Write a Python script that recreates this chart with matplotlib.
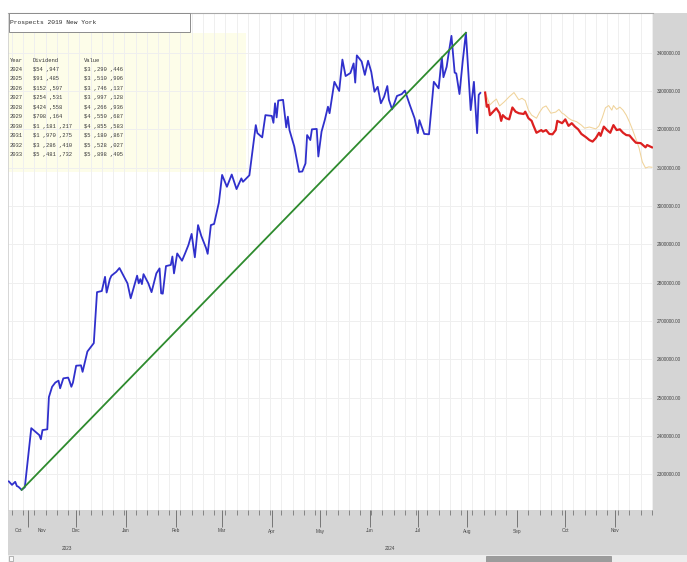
import matplotlib
matplotlib.use("Agg")
import matplotlib.pyplot as plt
import matplotlib.dates as mdates
import matplotlib.transforms as mtransforms
from matplotlib.patches import Rectangle
from matplotlib.ticker import FixedLocator, StrMethodFormatter
import pandas as pd

W, H = 687, 562

title = "Prospects 2019 New York"
table_header = ["Year", "Dividend", "Value"]
table_years = ["2024", "2025", "2026", "2027", "2028", "2029", "2030", "2031", "2032", "2033"]
table_dividends = ["$54 ,947", "$91 ,485", "$152 ,597", "$254 ,531", "$424 ,558",
                   "$708 ,164", "$1 ,181 ,217", "$1 ,970 ,275", "$3 ,286 ,410", "$5 ,481 ,732"]
table_values = ["$3 ,290 ,446", "$3 ,510 ,906", "$3 ,746 ,137", "$3 ,997 ,128", "$4 ,266 ,936",
                "$4 ,550 ,687", "$4 ,855 ,583", "$5 ,180 ,867", "$5 ,528 ,027", "$5 ,898 ,405"]

blue_dates = [
    "2023-10-20", "2023-10-22", "2023-10-24", "2023-10-25", "2023-10-26", "2023-10-28", "2023-10-30",
    "2023-11-03", "2023-11-08", "2023-11-09", "2023-11-10", "2023-11-13", "2023-11-14", "2023-11-16",
    "2023-11-18", "2023-11-20", "2023-11-21", "2023-11-23", "2023-11-26", "2023-11-27", "2023-11-28",
    "2023-11-29", "2023-12-01", "2023-12-04", "2023-12-05", "2023-12-08", "2023-12-10", "2023-12-12",
    "2023-12-14", "2023-12-17", "2023-12-19", "2023-12-20", "2023-12-22", "2023-12-23", "2023-12-26",
    "2023-12-28", "2023-12-30", "2024-01-02", "2024-01-04", "2024-01-06", "2024-01-08", "2024-01-09",
    "2024-01-10", "2024-01-11", "2024-01-12", "2024-01-15", "2024-01-17", "2024-01-20", "2024-01-22",
    "2024-01-23", "2024-01-24", "2024-01-26", "2024-01-29", "2024-01-30", "2024-01-31", "2024-02-02",
    "2024-02-04", "2024-02-05", "2024-02-07", "2024-02-09", "2024-02-11", "2024-02-13", "2024-02-15",
    "2024-02-17", "2024-02-20", "2024-02-21", "2024-02-23", "2024-02-25", "2024-02-28", "2024-03-01",
    "2024-03-04", "2024-03-07", "2024-03-10", "2024-03-13", "2024-03-14", "2024-03-18", "2024-03-22",
    "2024-03-23", "2024-03-26", "2024-03-28", "2024-04-01", "2024-04-02", "2024-04-03", "2024-04-04",
    "2024-04-05", "2024-04-08", "2024-04-10", "2024-04-11", "2024-04-12", "2024-04-15", "2024-04-18",
    "2024-04-20", "2024-04-22", "2024-04-23", "2024-04-25", "2024-04-26", "2024-04-29", "2024-04-30",
    "2024-05-02", "2024-05-04", "2024-05-06", "2024-05-07", "2024-05-10", "2024-05-13", "2024-05-15",
    "2024-05-17", "2024-05-20", "2024-05-22", "2024-05-23", "2024-05-24", "2024-05-27", "2024-05-29",
    "2024-05-31", "2024-06-02", "2024-06-04", "2024-06-06", "2024-06-08", "2024-06-10", "2024-06-12",
    "2024-06-13", "2024-06-15", "2024-06-18", "2024-06-21", "2024-06-23", "2024-06-26", "2024-06-29",
    "2024-07-01", "2024-07-02", "2024-07-05", "2024-07-08", "2024-07-11", "2024-07-14", "2024-07-16",
    "2024-07-17", "2024-07-19", "2024-07-20", "2024-07-22", "2024-07-24", "2024-07-25", "2024-07-27",
    "2024-07-29", "2024-07-31", "2024-08-03", "2024-08-05", "2024-08-07", "2024-08-08", "2024-08-09",
]
blue_values = [
    2281000, 2272000, 2280000, 2269000, 2267000, 2259000, 2266000,
    2420000, 2402000, 2391000, 2415000, 2417000, 2501000, 2528000,
    2539000, 2544000, 2524000, 2550000, 2552000, 2541000, 2528000,
    2539000, 2583000, 2584000, 2567000, 2620000, 2631000, 2642000,
    2775000, 2778000, 2815000, 2774000, 2809000, 2818000, 2828000,
    2838000, 2822000, 2798000, 2759000, 2789000, 2818000, 2798000,
    2809000, 2796000, 2822000, 2798000, 2775000, 2824000, 2837000,
    2772000, 2771000, 2843000, 2846000, 2868000, 2824000, 2876000,
    2863000, 2857000, 2877000, 2898000, 2927000, 2866000, 2950000,
    2922000, 2890000, 2875000, 2950000, 2953000, 3009000, 3081000,
    3050000, 3082000, 3044000, 3072000, 3063000, 3080000, 3211000,
    3190000, 3179000, 3237000, 3235000, 3217000, 3268000, 3231000,
    3275000, 3277000, 3205000, 3233000, 3198000, 3155000, 3089000,
    3090000, 3111000, 3185000, 3172000, 3200000, 3201000, 3129000,
    3194000, 3224000, 3259000, 3242000, 3324000, 3300000, 3382000,
    3339000, 3347000, 3372000, 3322000, 3393000, 3377000, 3342000,
    3379000, 3350000, 3298000, 3311000, 3268000, 3285000, 3313000,
    3277000, 3252000, 3287000, 3292000, 3301000, 3264000, 3229000,
    3190000, 3224000, 3188000, 3187000, 3324000, 3307000, 3388000,
    3336000, 3363000, 3391000, 3444000, 3348000, 3346000, 3292000,
    3377000, 3452000, 3250000, 3324000, 3190000, 3290000, 3295000,
]

trend_dates = ["2023-10-28", "2024-07-31"]
trend_values = [2259000, 3452000]

red_dates = [
    "2024-08-12", "2024-08-13", "2024-08-14", "2024-08-15", "2024-08-17", "2024-08-19", "2024-08-21",
    "2024-08-22", "2024-08-23", "2024-08-25", "2024-08-27", "2024-08-29", "2024-08-31", "2024-09-02",
    "2024-09-05", "2024-09-06", "2024-09-08", "2024-09-10", "2024-09-11", "2024-09-13", "2024-09-16",
    "2024-09-17", "2024-09-19", "2024-09-21", "2024-09-23", "2024-09-25", "2024-09-26", "2024-09-29",
    "2024-10-01", "2024-10-03", "2024-10-05", "2024-10-07", "2024-10-09", "2024-10-11", "2024-10-14",
    "2024-10-16", "2024-10-18", "2024-10-20", "2024-10-22", "2024-10-23", "2024-10-25", "2024-10-27",
    "2024-10-29", "2024-10-31", "2024-11-02", "2024-11-04", "2024-11-06", "2024-11-08", "2024-11-10",
    "2024-11-12", "2024-11-14", "2024-11-17", "2024-11-20", "2024-11-21", "2024-11-24",
]
red_values = [
    3296000, 3259000, 3264000, 3237000, 3246000, 3255000, 3242000,
    3222000, 3237000, 3229000, 3226000, 3257000, 3246000, 3242000,
    3240000, 3246000, 3229000, 3222000, 3211000, 3191000, 3198000,
    3194000, 3198000, 3188000, 3187000, 3198000, 3222000, 3216000,
    3226000, 3209000, 3216000, 3207000, 3200000, 3188000, 3179000,
    3172000, 3168000, 3177000, 3191000, 3183000, 3207000, 3198000,
    3191000, 3211000, 3198000, 3200000, 3191000, 3185000, 3184000,
    3174000, 3165000, 3164000, 3153000, 3159000, 3153000,
]

orange_dates = [
    "2024-08-12", "2024-08-15", "2024-08-17", "2024-08-19", "2024-08-21", "2024-08-24", "2024-08-27",
    "2024-08-30", "2024-09-02", "2024-09-04", "2024-09-06", "2024-09-08", "2024-09-10", "2024-09-13",
    "2024-09-15", "2024-09-17", "2024-09-19", "2024-09-22", "2024-09-25", "2024-09-27", "2024-09-29",
    "2024-09-30", "2024-10-03", "2024-10-05", "2024-10-08", "2024-10-11", "2024-10-13", "2024-10-16",
    "2024-10-20", "2024-10-22", "2024-10-24", "2024-10-26", "2024-10-28", "2024-10-30", "2024-10-31",
    "2024-11-02", "2024-11-04", "2024-11-06", "2024-11-08", "2024-11-10", "2024-11-12", "2024-11-14",
    "2024-11-16", "2024-11-18", "2024-11-20", "2024-11-22", "2024-11-24",
]
orange_values = [
    3296000, 3264000, 3272000, 3279000, 3261000, 3272000, 3285000,
    3296000, 3277000, 3281000, 3275000, 3250000, 3237000, 3229000,
    3245000, 3257000, 3261000, 3242000, 3245000, 3252000, 3242000,
    3240000, 3229000, 3224000, 3220000, 3211000, 3203000, 3206000,
    3201000, 3209000, 3230000, 3256000, 3262000, 3250000, 3262000,
    3252000, 3258000, 3250000, 3237000, 3219000, 3198000, 3175000,
    3151000, 3115000, 3099000, 3102000, 3101000,
]

y_ticks = [2300000, 2400000, 2500000, 2600000, 2700000, 2800000,
           2900000, 3000000, 3100000, 3200000, 3300000, 3400000]
month_labels = ["Oct", "Nov", "Dec", "Jan", "Feb", "Mar", "Apr", "May",
                "Jun", "Jul", "Aug", "Sep", "Oct", "Nov"]
year_labels = ["2023", "2024"]

x_start = pd.Timestamp("2023-10-19 12:00")
x_end = pd.Timestamp("2024-11-24 16:00")
y_min, y_max = 2206400, 3503600

# ---------------------------------------------------------------- figure
fig = plt.figure(figsize=(W / 100, H / 100), dpi=100)
fig.patch.set_facecolor("white")

def fx(px):
    return px / W

def fy(py):
    return 1 - py / H

# gray frame right and below the plot
fig.patches.append(Rectangle((fx(8), 0), 1 - fx(8), fy(13), transform=fig.transFigure,
                             facecolor="#d5d5d5", edgecolor="none", zorder=-5))
# scrollbar
fig.patches.append(Rectangle((fx(8), 0), 1 - fx(8), 7 / H, transform=fig.transFigure,
                             facecolor="#ededed", edgecolor="none", zorder=-4))
fig.patches.append(Rectangle((fx(486), 0.5 / H), fx(611) - fx(486), 6 / H, transform=fig.transFigure,
                             facecolor="#9c9c9c", edgecolor="#8a8a8a", linewidth=0.5, zorder=-3))
fig.patches.append(Rectangle((fx(9), 1 / H), 4 / W, 5 / H, transform=fig.transFigure,
                             facecolor="#f8f8f8", edgecolor="#999999", linewidth=0.5, zorder=-3))

ax = fig.add_axes([fx(8), 1 - 510 / H, (653 - 8) / W, (510 - 13) / H])
ax.set_zorder(1)
ax.set_facecolor("white")

bd = pd.to_datetime(blue_dates)
ax.plot(bd, blue_values, color="#3030cc", linewidth=1.3, zorder=3)
ax.plot(pd.to_datetime(trend_dates), trend_values, color="#2e8b2e", linewidth=1.3, zorder=4)
ax.plot(pd.to_datetime(orange_dates), orange_values, color="#f0d39a", linewidth=0.75, zorder=3)
ax.plot(pd.to_datetime(red_dates), red_values, color="#dc2020", linewidth=1.6, zorder=4)

ax.set_xlim(x_start, x_end)
ax.set_ylim(y_min, y_max)

# axes styling
for s in ["right", "bottom"]:
    ax.spines[s].set_visible(False)
ax.spines["top"].set_color("#a8a8a8")
ax.spines["top"].set_linewidth(0.8)
ax.spines["left"].set_color("#d0d0d0")
ax.spines["left"].set_linewidth(0.6)

ax.yaxis.tick_right()
ax.yaxis.set_major_locator(FixedLocator(y_ticks))
ax.yaxis.set_major_formatter(StrMethodFormatter("{x:.2f}"))
ax.tick_params(axis="y", length=0, pad=2.5, labelsize=3.4, labelcolor="#444444")
for lab in ax.get_yticklabels():
    lab.set_fontfamily("Liberation Sans")

ax.xaxis.set_major_locator(mdates.MonthLocator())
ax.xaxis.set_minor_locator(mdates.WeekdayLocator(byweekday=mdates.SU))
ax.tick_params(axis="x", which="major", length=12, width=0.6, color="#666666", labelbottom=False)
ax.tick_params(axis="x", which="minor", length=3.6, width=0.6, color="#777777", labelbottom=False)

ax.xaxis.grid(True, which="minor", color="#efefef", linewidth=0.7)
ax.xaxis.grid(False, which="major")
ax.yaxis.grid(True, which="major", color="#efefef", linewidth=0.7)

# month and year labels below the axis
bt = mtransforms.blended_transform_factory(ax.transData, fig.transFigure)
month_starts = list(pd.date_range("2023-12-01", "2024-11-01", freq="MS"))
first_oct = x_start + (pd.Timestamp("2023-11-01") - x_start) / 2
month_pos = [first_oct, pd.Timestamp("2023-11-09 18:00")] + month_starts
for lab, pos in zip(month_labels, month_pos):
    ax.text(pos, fy(531), lab, transform=bt, ha="center", va="center",
            fontsize=3.4, color="#444444", family="Liberation Sans", clip_on=False)
year_mid = [x_start + (pd.Timestamp("2024-01-01") - x_start) / 2,
            pd.Timestamp("2024-01-01") + (x_end - pd.Timestamp("2024-01-01")) / 2]
for lab, pos in zip(year_labels, year_mid):
    ax.text(pos, fy(548), lab, transform=bt, ha="center", va="center",
            fontsize=3.4, color="#444444", family="Liberation Sans", clip_on=False)

# table background
ax.add_patch(Rectangle((fx(8), fy(172)), fx(246) - fx(8), fy(33) - fy(172),
                       transform=fig.transFigure, facecolor="#fcfcd8", alpha=0.55,
                       edgecolor="none", zorder=1))
# title box
ax.add_patch(Rectangle((fx(8.5), fy(31.5)), fx(190) - fx(8.5), fy(13.5) - fy(31.5),
                       transform=fig.transFigure, facecolor="white",
                       edgecolor="#8c8c8c", linewidth=0.7, zorder=6, clip_on=False))
ax.text(fx(10.5), fy(22.5), title, transform=fig.transFigure, ha="left", va="center",
        fontsize=4.5, family="Liberation Mono", color="#2a2a2a", zorder=7)

# table text
col_x = [10, 33, 84]
for cx, t in zip(col_x, table_header):
    ax.text(fx(cx), fy(60), t, transform=fig.transFigure, fontsize=4.0,
            family="Liberation Mono", color="#3a3a3a", va="center", zorder=7)
for i, (yr, dv, vl) in enumerate(zip(table_years, table_dividends, table_values)):
    yy = fy(69.3 + 9.5 * i)
    for cx, t in zip(col_x, (yr, dv, vl)):
        ax.text(fx(cx), yy, t, transform=fig.transFigure, fontsize=4.0,
                family="Liberation Mono", color="#3a3a3a", va="center", zorder=7)

fig.savefig("out.png", dpi=100, facecolor=fig.get_facecolor())
